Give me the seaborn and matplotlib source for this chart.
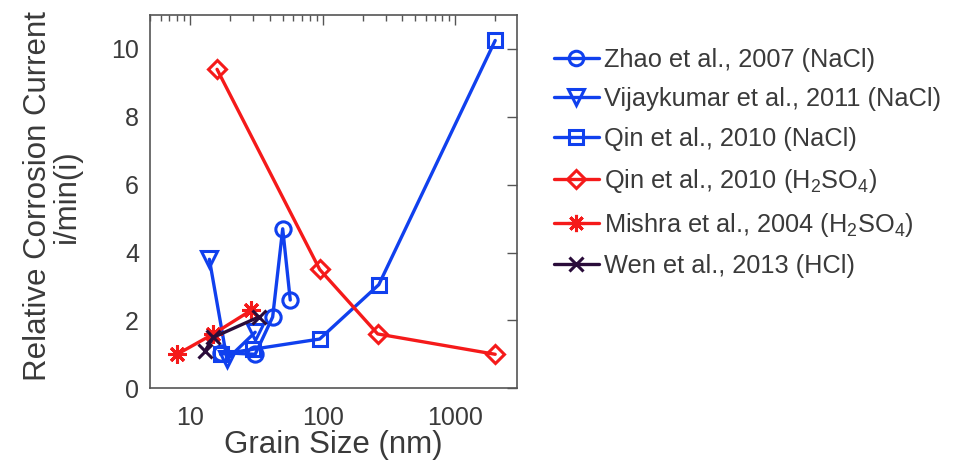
import matplotlib
matplotlib.use("Agg")
import matplotlib.pyplot as plt
import seaborn as sns
import pandas as pd
from matplotlib.ticker import LogLocator, NullFormatter, FixedLocator

sns.set_theme(style="white")
plt.rcParams['font.family'] = ['Liberation Sans', 'DejaVu Sans']
plt.rcParams['mathtext.default'] = 'regular'

# Data (grain size in nm, relative corrosion current)
zhao_x = [17, 31, 42, 50, 57]
zhao_y = [1.05, 1.0, 2.1, 4.7, 2.6]
vijay_x = [14, 19, 31]
vijay_y = [3.8, 0.85, 1.65]
qin_nacl_x = [17, 30, 95, 265, 2000]
qin_nacl_y = [1.0, 1.15, 1.45, 3.05, 10.25]
qin_h2so4_x = [16, 95, 260, 2000]
qin_h2so4_y = [9.4, 3.5, 1.6, 1.0]
mishra_x = [8, 15, 29]
mishra_y = [1.0, 1.6, 2.3]
wen_x = [13, 15, 33]
wen_y = [1.1, 1.5, 2.1]

labels = ["Zhao et al., 2007 (NaCl)",
          "Vijaykumar et al., 2011 (NaCl)",
          "Qin et al., 2010 (NaCl)",
          "Qin et al., 2010 (H$_2$SO$_4$)",
          "Mishra et al., 2004 (H$_2$SO$_4$)",
          "Wen et al., 2013 (HCl)"]

BLUE = "#1040ee"
RED = "#f51a1a"
DARK = "#2a0c3a"

series = [
    (zhao_x, zhao_y, BLUE, "o", 11),
    (vijay_x, vijay_y, BLUE, "v", 11.5),
    (qin_nacl_x, qin_nacl_y, BLUE, "s", 10),
    (qin_h2so4_x, qin_h2so4_y, RED, "D", 9.5),
    (mishra_x, mishra_y, RED, (8, 2, 0), 13),
    (wen_x, wen_y, DARK, "x", 10),
]

fig = plt.figure(figsize=(9.62, 4.70), dpi=100)
ax = fig.add_axes([0.156, 0.174, 0.381, 0.794])

for (xs, ys, c, m, ms), lab in zip(series, labels):
    df = pd.DataFrame({"x": xs, "y": ys})
    sns.lineplot(data=df, x="x", y="y", ax=ax, color=c, marker=m,
                 markersize=ms, markerfacecolor="none", markeredgecolor=c,
                 markeredgewidth=2.2, linewidth=2.4, label=lab, sort=False)

ax.set_xscale("log")
ax.set_xlim(5, 2900)
ax.set_ylim(0, 11)
ax.set_yticks([0, 2, 4, 6, 8, 10])
ax.xaxis.set_major_locator(FixedLocator([10, 100, 1000]))
ax.set_xticklabels(["10", "100", "1000"])
ax.xaxis.set_minor_locator(LogLocator(base=10, subs=range(2, 10)))
ax.xaxis.set_minor_formatter(NullFormatter())

txt = "#3a3a3a"
ax.tick_params(axis="both", which="both", direction="in", top=True, right=True,
               colors="#555555", labelcolor=txt, labelsize=18)
ax.tick_params(which="major", length=7, width=1)
ax.tick_params(which="minor", length=4, width=1)
ax.tick_params(axis="x", pad=13)
ax.tick_params(axis="y", pad=8)
for s in ax.spines.values():
    s.set_color("#555555")
    s.set_linewidth(1.2)

ax.set_xlabel("Grain Size (nm)", fontsize=22.5, color=txt, labelpad=0)
ax.set_ylabel("Relative Corrosion Current\ni/min(i)", fontsize=22.5, color=txt,
              linespacing=0.95)
ax.yaxis.set_label_coords(-0.185, 0.515)

leg = ax.legend(loc="upper left", bbox_to_anchor=(1.075, 0.94), frameon=False,
                fontsize=18.3, handlelength=1.75, handletextpad=0.2,
                labelspacing=0.62, borderaxespad=0, markerscale=0.95)
for t in leg.get_texts():
    t.set_color(txt)

fig.savefig("out.png", dpi=100)
